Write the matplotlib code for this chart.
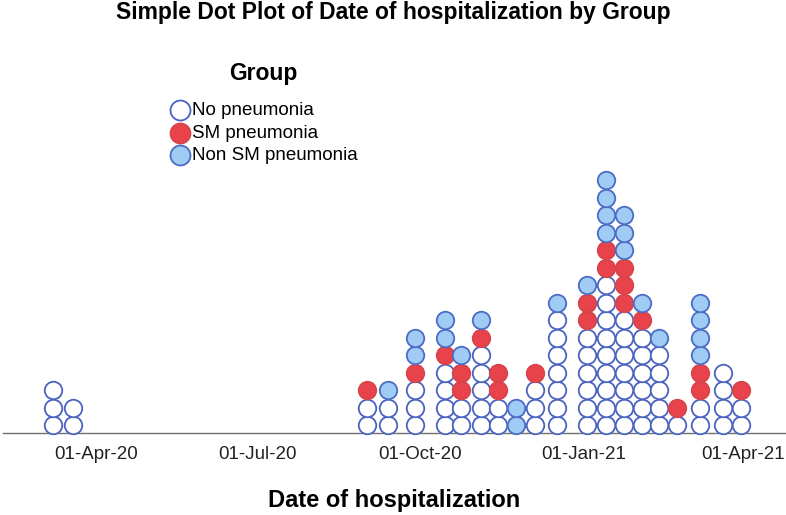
import matplotlib
matplotlib.use("Agg")
import matplotlib.pyplot as plt
import matplotlib.dates as mdates
import numpy as np
import datetime as dt

plt.rcParams['font.family'] = ['Liberation Sans', 'DejaVu Sans']

# Bin dates (one dot column each) and counts per group
bin_dates = ["2020-03-08", "2020-03-19", "2020-09-01", "2020-09-13", "2020-09-28",
             "2020-10-15", "2020-10-24", "2020-11-04", "2020-11-14", "2020-11-24",
             "2020-12-05", "2020-12-17", "2021-01-03", "2021-01-14", "2021-01-24",
             "2021-02-03", "2021-02-13", "2021-02-23", "2021-03-08", "2021-03-21",
             "2021-03-31"]
no_pneumonia = [3, 2, 2, 2, 3, 4, 2, 5, 2, 0, 3, 7, 6, 9, 7, 6, 5, 1, 2, 4, 2]
sm_pneumonia = [0, 0, 1, 0, 1, 1, 2, 1, 2, 0, 1, 0, 2, 2, 3, 1, 0, 1, 2, 0, 1]
non_sm_pneumonia = [0, 0, 0, 1, 2, 2, 1, 1, 0, 2, 0, 1, 1, 4, 3, 1, 1, 0, 4, 0, 0]

groups = ["No pneumonia", "SM pneumonia", "Non SM pneumonia"]
counts = [no_pneumonia, sm_pneumonia, non_sm_pneumonia]
face_colors = ["white", "#e8434b", "#9fcbf4"]
edge_colors = ["#4a62c0", "#d8434b", "#4a6cc4"]

tick_dates = ["2020-04-01", "2020-07-01", "2020-10-01", "2021-01-01", "2021-04-01"]
tick_labels = ["01-Apr-20", "01-Jul-20", "01-Oct-20", "01-Jan-21", "01-Apr-21"]

W, H = 786, 515
fig = plt.figure(figsize=(W / 100, H / 100), dpi=100)
ax_left, ax_right, ax_bottom, ax_top = 3, 786, 433, 60
ax = fig.add_axes([ax_left / W, (H - ax_bottom) / H, (ax_right - ax_left) / W, (ax_bottom - ax_top) / H])

spacing_px = 17.5
ylim_top = (ax_bottom - ax_top) / spacing_px
y0 = 8.0 / spacing_px

x_dates = mdates.date2num([dt.datetime.strptime(d, "%Y-%m-%d") for d in bin_dates])
ms = (17.5 * 0.72) ** 2

handles = []
for gi, (name, cnt) in enumerate(zip(groups, counts)):
    xs, ys = [], []
    for ci, x in enumerate(x_dates):
        base = sum(counts[k][ci] for k in range(gi))
        for j in range(cnt[ci]):
            xs.append(x)
            ys.append(y0 + base + j)
    h = ax.scatter(xs, ys, s=ms, facecolor=face_colors[gi], edgecolor=edge_colors[gi],
                   linewidth=1.3, zorder=3, label=name, clip_on=False)
    handles.append(h)

# x scale: Apr 1 2020 at px 96, 1.772 px/day
ref = mdates.date2num(dt.datetime(2020, 4, 1))
ppd = 1.772
ax.set_xlim(ref + (ax_left - 96) / ppd, ref + (ax_right - 96) / ppd)
ax.set_ylim(0, ylim_top)

ax.set_xticks(mdates.date2num([dt.datetime.strptime(d, "%Y-%m-%d") for d in tick_dates]))
ax.set_xticklabels(tick_labels, fontsize=13.5, color="#222222")
ax.tick_params(axis='x', length=0, pad=9.5)
ax.set_yticks([])
for s in ["top", "right", "left"]:
    ax.spines[s].set_visible(False)
ax.spines["bottom"].set_color("#707070")
ax.spines["bottom"].set_linewidth(1.0)

ax.set_xlabel("Date of hospitalization", fontsize=17, fontweight="bold", labelpad=18.5)

fig.text(0.5, 1 - 13 / H, "Simple Dot Plot of Date of hospitalization by Group",
         ha="center", va="center", fontsize=16.5, fontweight="bold")

leg = ax.legend(handles=handles, title="Group", loc="upper left",
                bbox_to_anchor=(169 / W, 1 - 62 / H), bbox_transform=fig.transFigure,
                frameon=False, fontsize=13.5, title_fontproperties={"weight": "bold", "size": 16.5},
                handletextpad=0.05, labelspacing=0.3, handlelength=1.15, borderpad=0,
                borderaxespad=0, scatterpoints=1, markerscale=1.14)
leg._legend_box.sep = 12

fig.savefig("out.png", dpi=100, facecolor="white")
